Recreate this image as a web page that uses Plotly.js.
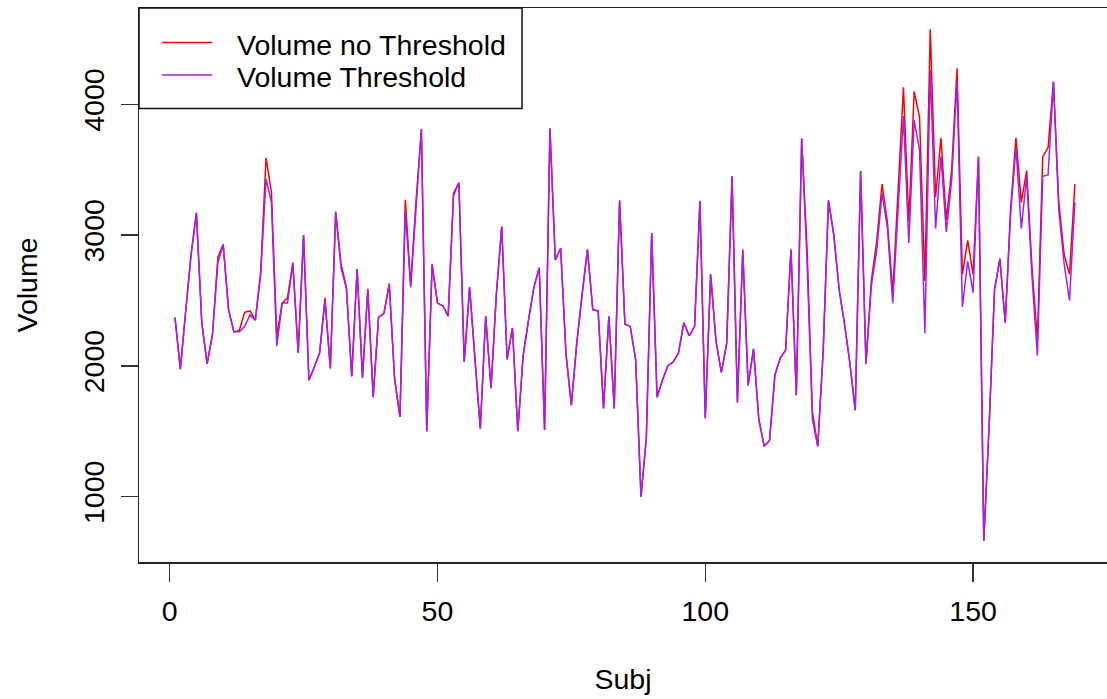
<!DOCTYPE html>
<html>
<head>
<meta charset="utf-8">
<script src="https://cdn.plot.ly/plotly-3.0.1.min.js"></script>
<style>html,body{margin:0;padding:0;background:#fff;}#chart{width:1107px;height:699px;}</style>
</head>
<body>
<div id="chart"></div>
<script>
// Subject index
const subj = Array.from({length: 169}, (_, i) => i + 1);

// Volume without threshold (red)
const volumeNoThreshold = [
 2370,1975,2420,2850,3170,2330,2015,2240,2830,2930,
 2430,2260,2270,2410,2420,2350,2720,3590,3330,2230,
 2480,2520,2790,2100,3000,1890,1990,2100,2520,1980,
 3180,2780,2600,1920,2740,1910,2590,1760,2370,2400,
 2630,1900,1610,3270,2620,3260,3810,1500,2780,2480,
 2460,2380,3320,3400,2030,2600,2050,1520,2380,1830,
 2550,3066,2050,2290,1500,2080,2350,2600,2750,1510,
 3815,2810,2900,2090,1700,2170,2545,2890,2430,2420,
 1675,2380,1675,3265,2320,2300,2050,1000,1450,3015,
 1760,1890,2000,2030,2100,2330,2230,2300,3260,1600,
 2700,2190,1950,2170,3450,1720,2890,1850,2130,1590,
 1385,1430,1930,2060,2120,2890,1775,3740,2900,1650,
 1385,2100,3265,3000,2580,2320,2020,1660,3490,2015,
 2650,2950,3390,3100,2560,3300,4130,3100,4100,3900,
 2650,4575,3290,3745,3114,3500,4276,2700,2960,2700,
 3600,660,1550,2580,2820,2330,3200,3745,3250,3493,
 2750,2200,3600,3670,4175,3250,2850,2700,3390
];

// Volume with threshold (purple)
const volumeThreshold = [
 2370,1975,2420,2850,3170,2330,2015,2240,2790,2925,
 2430,2260,2260,2300,2390,2350,2700,3430,3250,2150,
 2480,2480,2780,2100,3000,1890,1990,2100,2495,1980,
 3170,2750,2590,1920,2740,1910,2580,1760,2370,2400,
 2620,1900,1610,3180,2600,3250,3810,1500,2770,2480,
 2460,2380,3300,3400,2030,2600,2050,1520,2380,1830,
 2550,3066,2050,2290,1500,2080,2350,2600,2750,1510,
 3815,2810,2900,2090,1700,2170,2545,2890,2430,2420,
 1675,2380,1675,3265,2320,2300,2050,1000,1450,3015,
 1760,1890,2000,2030,2100,2330,2230,2300,3250,1600,
 2700,2190,1950,2170,3450,1720,2875,1850,2130,1590,
 1385,1430,1930,2060,2120,2890,1775,3735,2800,1590,
 1385,2100,3265,3000,2580,2320,2020,1660,3490,2015,
 2610,2880,3320,3060,2480,3200,3910,2940,3880,3650,
 2250,4263,3050,3600,3025,3420,4175,2450,2800,2560,
 3600,660,1550,2580,2820,2330,3160,3670,3050,3450,
 2680,2080,3450,3460,4170,3190,2780,2500,3250
];

const seriesNames = ['Volume no Threshold', 'Volume Threshold'];
const seriesColors = ['#FF0000', '#A020F0'];
const xTicks = [0, 50, 100, 150];
const yTicks = [1000, 2000, 3000, 4000];

const traces = [
  {x: subj, y: volumeNoThreshold, type: 'scatter', mode: 'lines', name: seriesNames[0],
   line: {color: seriesColors[0], width: 1.5}},
  {x: subj, y: volumeThreshold, type: 'scatter', mode: 'lines', name: seriesNames[1],
   line: {color: seriesColors[1], width: 1.5}}
];

const axisFont = {family: 'Liberation Sans, Arial, sans-serif', size: 28.5, color: '#000'};

// Legend (R-style box in the top-left corner), placed in paper coordinates
const legRowY = [0.9336, 0.8747];   // text rows
const legLineY = [0.9379, 0.8791];  // line samples
const shapes = [
  {type: 'rect', xref: 'paper', yref: 'paper', x0: 0, x1: 0.3957, y0: 0.8186, y1: 1,
   line: {color: '#111', width: 1.5}, fillcolor: '#fff', layer: 'above'}
];
const annotations = [];
seriesNames.forEach((nm, i) => {
  shapes.push({type: 'line', xref: 'paper', yref: 'paper', x0: 0.0238, x1: 0.0754,
    y0: legLineY[i], y1: legLineY[i], line: {color: seriesColors[i], width: 1.5}, layer: 'above'});
  annotations.push({xref: 'paper', yref: 'paper', x: 0.0992, y: legRowY[i], xanchor: 'left',
    yanchor: 'middle', text: nm, showarrow: false, font: axisFont});
});

const layout = {
  width: 1107, height: 699,
  margin: {l: 139, r: 0, t: 8, b: 137, pad: 0},
  paper_bgcolor: '#fff', plot_bgcolor: '#fff',
  font: axisFont,
  showlegend: false,
  shapes: shapes,
  annotations: annotations,
  xaxis: {range: [-5.72, 175.0], tickvals: xTicks, ticktext: xTicks.map(String),
    ticks: 'outside', ticklen: 18, tickwidth: 1.3, tickcolor: '#333',
    showline: true, mirror: true, linecolor: '#222', linewidth: 1.5,
    showgrid: false, zeroline: false, automargin: false, ticklabelstandoff: 5,
    tickfont: axisFont, title: {text: 'Subj', font: axisFont, standoff: 43}},
  yaxis: {range: [500, 4737], tickvals: yTicks, ticktext: yTicks.map(String),
    ticks: 'outside', ticklen: 17, tickwidth: 1.3, tickcolor: '#333', tickangle: -90,
    showline: true, mirror: false, linecolor: '#222', linewidth: 1.5,
    showgrid: false, zeroline: false, automargin: false, ticklabelstandoff: 5,
    tickfont: axisFont, title: {text: 'Volume', font: axisFont, standoff: 32}}
};

Plotly.newPlot('chart', traces, layout, {displayModeBar: false, staticPlot: true});
</script>
</body>
</html>
